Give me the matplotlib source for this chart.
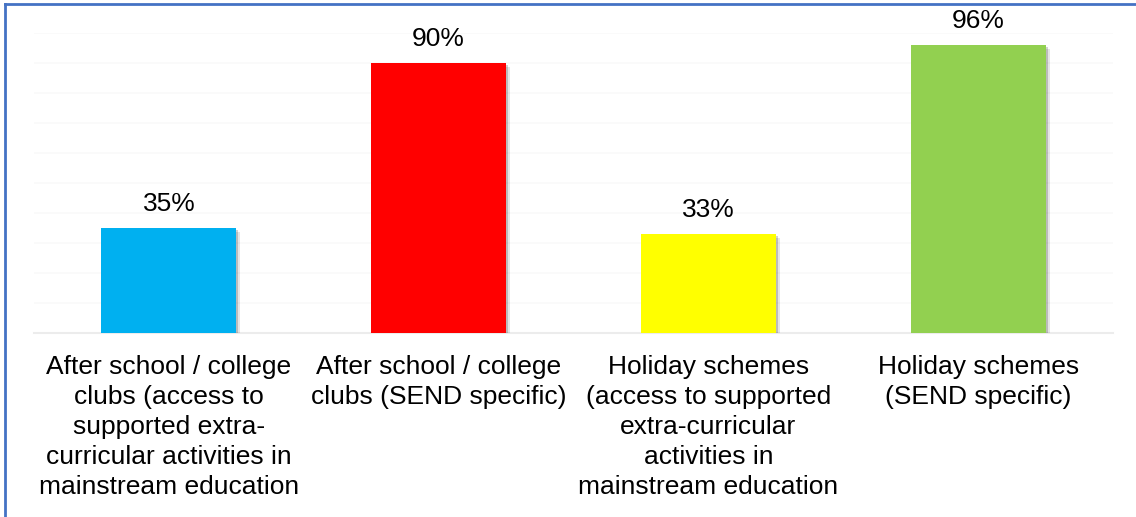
import matplotlib
matplotlib.use("Agg")
import matplotlib.pyplot as plt
import matplotlib.patheffects as pe
from matplotlib.lines import Line2D

categories = [
    "After school / college\nclubs (access to\nsupported extra-\ncurricular activities in\nmainstream education",
    "After school / college\nclubs (SEND specific)",
    "Holiday schemes\n(access to supported\nextra-curricular\nactivities in\nmainstream education",
    "Holiday schemes\n(SEND specific)",
]
values = [35, 90, 33, 96]
colors = ["#00B0F0", "#FF0000", "#FFFF00", "#92D050"]

plt.rcParams["font.family"] = ["Liberation Sans", "DejaVu Sans"]

fig = plt.figure(figsize=(11.36, 5.17), dpi=100)
ax = fig.add_axes([34 / 1136, (517 - 333) / 517, (1113 - 34) / 1136, 300 / 517])

x = list(range(len(values)))
bars = ax.bar(x, values, width=0.5, color=colors, zorder=3)
for b in bars:
    b.set_path_effects([
        pe.SimplePatchShadow(offset=(3, -3), shadow_rgbFace="#000000", alpha=0.10),
        pe.SimplePatchShadow(offset=(1.5, -1.5), shadow_rgbFace="#000000", alpha=0.18),
        pe.Normal(),
    ])

for xi, v in zip(x, values):
    ax.text(xi, v + 5.6, f"{v}%", ha="center", va="baseline", fontsize=19, color="#000000",
            clip_on=False)

ax.set_xlim(-0.5, len(values) - 0.5)
ax.set_ylim(0, 100)
ax.set_yticks(range(0, 101, 10))
ax.set_yticklabels([])
ax.yaxis.grid(True, color="#fafafa", linewidth=1.2, zorder=0)
ax.tick_params(axis="both", length=0)
ax.set_xticks(x)
ax.set_xticklabels(categories, fontsize=19, linespacing=1.31, color="#000000")
ax.tick_params(axis="x", pad=16)
for s in ["top", "right", "left"]:
    ax.spines[s].set_visible(False)
ax.spines["bottom"].set_color("#ececec")
ax.spines["bottom"].set_linewidth(1.5)

# frame lines along the top and left edges
fig.add_artist(Line2D([5 / 1136, 5 / 1136], [0, 1 - 4 / 517], transform=fig.transFigure,
                      color="#4472C4", linewidth=2))
fig.add_artist(Line2D([5 / 1136, 1], [1 - 4 / 517, 1 - 4 / 517], transform=fig.transFigure,
                      color="#4472C4", linewidth=2))

fig.savefig("out.png", dpi=100)
